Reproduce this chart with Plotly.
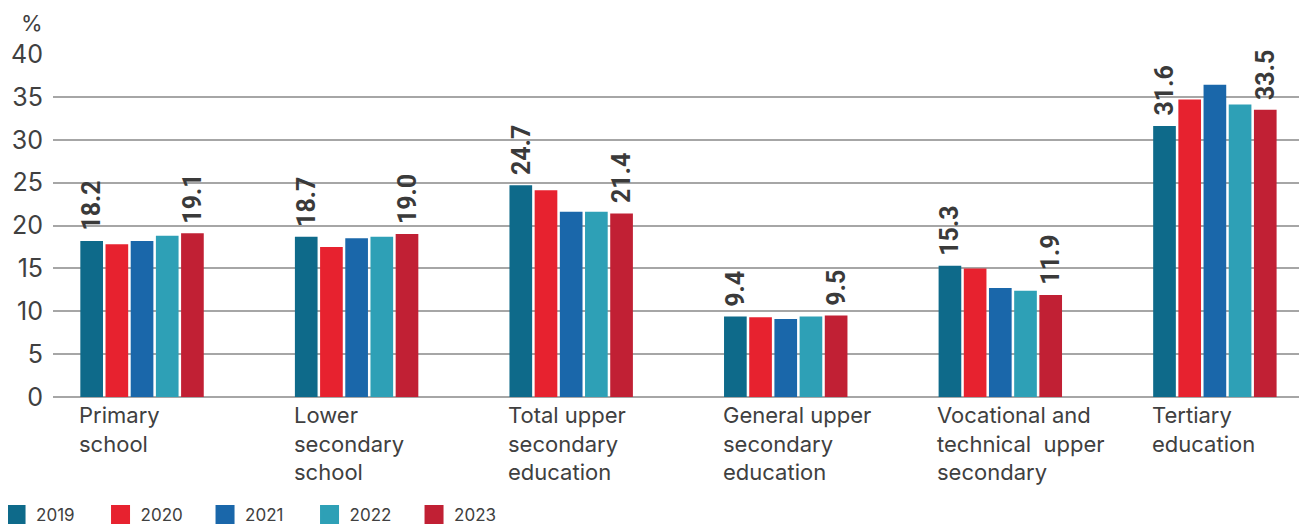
import plotly.graph_objects as go

categories = ["Primary school", "Lower secondary school", "Total upper secondary education",
              "General upper secondary education", "Vocational and technical upper secondary",
              "Tertiary education"]
category_labels = ["Primary<br>school", "Lower<br>secondary<br>school", "Total upper<br>secondary<br>education",
                   "General upper<br>secondary<br>education", "Vocational and<br>technical  upper<br>secondary",
                   "Tertiary<br>education"]
years = ["2019", "2020", "2021", "2022", "2023"]
values = {
    "2019": [18.2, 18.7, 24.7, 9.4, 15.3, 31.6],
    "2020": [17.8, 17.5, 24.1, 9.3, 15.0, 34.7],
    "2021": [18.2, 18.5, 21.6, 9.1, 12.7, 36.4],
    "2022": [18.8, 18.7, 21.6, 9.4, 12.4, 34.1],
    "2023": [19.1, 19.0, 21.4, 9.5, 11.9, 33.5],
}
labelled_years = ["2019", "2023"]
colors = {"2019": "#0E6A8A", "2020": "#E7222F", "2021": "#1A67AA", "2022": "#2EA0B6", "2023": "#C12034"}

BARGAP = 0.413
n = len(years)
pitch = (1 - BARGAP) / n
FONT = "Inter"
TXT = "#404040"

fig = go.Figure()
for y in years:
    fig.add_trace(go.Bar(x=list(range(len(categories))), y=values[y], name=y,
                         marker=dict(color=colors[y], line=dict(width=0)),
                         showlegend=False, hoverinfo="x+y"))
for y in years:
    fig.add_trace(go.Scatter(x=[None], y=[None], mode="markers", name=y,
                             marker=dict(symbol="square", size=16, color=colors[y],
                                         line=dict(width=3, color=colors[y]))))

annotations = []
for y in labelled_years:
    k = years.index(y)
    for i, v in enumerate(values[y]):
        annotations.append(dict(x=i + (k - (n - 1) / 2) * pitch, y=v, xref="x", yref="y",
                                text=f"{v:.1f}", showarrow=False, textangle=-90,
                                yanchor="bottom", xanchor="center", yshift=8,
                                font=dict(family="Roboto", size=25, color="#3A3A3A", weight="bold")))
for i, lab in enumerate(category_labels):
    annotations.append(dict(x=i - (1 - BARGAP) / 2, y=0, xref="x", yref="paper",
                            text=lab, showarrow=False, xanchor="left", yanchor="top",
                            align="left", yshift=-3, xshift=-2,
                            font=dict(family=FONT, size=22, color=TXT)))
annotations.append(dict(x=0, y=1, xref="paper", yref="paper", text="%", showarrow=False,
                        xanchor="right", yanchor="bottom", xshift=-8, yshift=16,
                        font=dict(family=FONT, size=22, color=TXT)))

fig.update_layout(
    width=1299, height=516,
    margin=dict(l=45, r=2, t=46, b=127, autoexpand=False),
    paper_bgcolor="white", plot_bgcolor="white",
    barmode="group", bargap=BARGAP, bargroupgap=0.1,
    xaxis=dict(range=[-0.415, 5.42], showticklabels=False, showgrid=False, zeroline=False,
               showline=False, fixedrange=True),
    yaxis=dict(range=[0, 40], tickvals=[0, 5, 10, 15, 20, 25, 30, 35, 40],
               showgrid=True, gridcolor="#A6A6A6", gridwidth=1.5, zeroline=True,
               zerolinecolor="#A6A6A6", zerolinewidth=1.5, showline=False,
               tickfont=dict(family=FONT, size=25, color=TXT), ticklabelstandoff=9),
    legend=dict(orientation="h", xref="paper", yref="paper", x=-0.0455, xanchor="left",
                y=-0.3965, yanchor="bottom",
                entrywidth=59.5, entrywidthmode="pixels",
                font=dict(family=FONT, size=17, color=TXT),
                itemclick=False, itemdoubleclick=False, tracegroupgap=0),
    annotations=annotations,
    showlegend=True,
)

fig.write_html("out.html")
